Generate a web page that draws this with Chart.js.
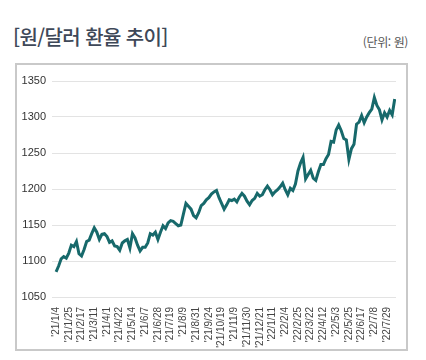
<!DOCTYPE html>
<html lang="ko">
<head>
    <meta charset="UTF-8">
    <title>원/달러 환율 추이</title>
    <script src="https://cdn.jsdelivr.net/npm/chart.js"></script>
    <style>
        body { margin: 0; background: #fff; width: 426px; height: 360px; position: relative; overflow: hidden; }
        .title { position: absolute; left: 13px; top: 22px; font-family: "Noto Sans CJK KR", sans-serif; font-size: 20px; font-weight: 500; color: #3e4858; letter-spacing: -0.6px; }
        .unit { position: absolute; right: 18px; top: 33px; font-family: "Noto Sans CJK KR", sans-serif; font-size: 12px; color: #555; letter-spacing: -0.4px; }
        .box { position: absolute; left: 15px; top: 63px; width: 389px; height: 284px; border: 2px solid #c9c9c9; background: #fff; }
        canvas { display: block; }
    </style>
</head>
<body>
<div class="title">[원/달러 환율 추이]</div>
<div class="unit">(단위: 원)</div>
<div class="box"><canvas id="fxChart" width="389" height="284"></canvas></div>

<script>
    // tick labels, one every 15 trading days
    const xLabels = ["'21/1/4", "'21/1/25", "'21/2/17", "'21/3/11", "'21/4/1", "'21/4/22", "'21/5/14",
        "'21/6/7", "'21/6/28", "'21/7/19", "'21/8/9", "'21/8/31", "'21/9/24", "'21/10/19", "'21/11/9",
        "'21/11/30", "'21/12/21", "'22/1/11", "'22/2/4", "'22/2/25", "'22/3/22", "'22/4/12", "'22/5/3",
        "'22/5/25", "'22/6/17", "'22/7/8", "'22/7/29"];
    const yTicks = [1050, 1100, 1150, 1200, 1250, 1300, 1350];

    // KRW per USD, sampled every 3 trading days (5 samples per tick label)
    const rate = [
        1085, 1093, 1103, 1106, 1104, 1111, 1122, 1120, 1127, 1110,
        1107, 1116, 1127, 1129, 1138, 1146, 1140, 1130, 1137, 1138,
        1134, 1126, 1128, 1121, 1120, 1115, 1125, 1128, 1130, 1118,
        1138, 1132, 1122, 1114, 1119, 1119, 1125, 1138, 1136, 1140,
        1130, 1140, 1149, 1145, 1153, 1156, 1155, 1152, 1149, 1150,
        1165, 1180, 1176, 1172, 1163, 1160, 1167, 1177, 1180, 1185,
        1188, 1193, 1196, 1198, 1188, 1180, 1172, 1178, 1185, 1184,
        1186, 1182, 1189, 1194, 1190, 1183, 1178, 1184, 1187, 1194,
        1190, 1192, 1199, 1204, 1199, 1192, 1196, 1199, 1203, 1208,
        1199, 1192, 1201, 1198, 1207, 1225, 1236, 1244, 1214, 1220,
        1226, 1215, 1212, 1224, 1234, 1234, 1242, 1248, 1266, 1265,
        1282, 1289, 1281, 1270, 1268, 1241, 1256, 1262, 1290, 1293,
        1302, 1292, 1300, 1306, 1311, 1327, 1316, 1310, 1296, 1306,
        1300, 1309, 1303, 1325
    ];

    const tickFont = { family: "'Liberation Sans', Arial, sans-serif", size: 11 };

    new Chart(document.getElementById('fxChart'), {
        type: 'line',
        data: {
            datasets: [{
                data: rate.map((v, i) => ({ x: i, y: v })),
                borderColor: '#17696b',
                borderWidth: 3,
                pointRadius: 0,
                tension: 0
            }]
        },
        options: {
            responsive: false,
            animation: false,
            plugins: { legend: { display: false }, tooltip: { enabled: false } },
            layout: { padding: { left: 0, top: 16, right: 10, bottom: 0 } },
            scales: {
                x: {
                    type: 'linear',
                    min: -1.6,
                    max: 133.5,
                    afterBuildTicks: s => { s.ticks = xLabels.map((_, k) => ({ value: k * 5 })); },
                    afterFit: s => { s.height = 52; },
                    grid: { display: false },
                    border: { display: false },
                    ticks: {
                        autoSkip: false,
                        minRotation: 90,
                        maxRotation: 90,
                        padding: 2,
                        color: '#444',
                        font: { family: tickFont.family, size: 10 },
                        callback: v => xLabels[Math.round(v / 5)]
                    }
                },
                y: {
                    min: 1050,
                    max: 1350,
                    afterBuildTicks: s => { s.ticks = yTicks.map(v => ({ value: v })); },
                    afterFit: s => { s.width = 35; },
                    grid: { color: '#e3e3e3', lineWidth: 1, drawTicks: false },
                    border: { display: false },
                    ticks: { padding: 6, color: '#333', font: tickFont, callback: v => String(v) }
                }
            }
        }
    });
</script>
</body>
</html>
